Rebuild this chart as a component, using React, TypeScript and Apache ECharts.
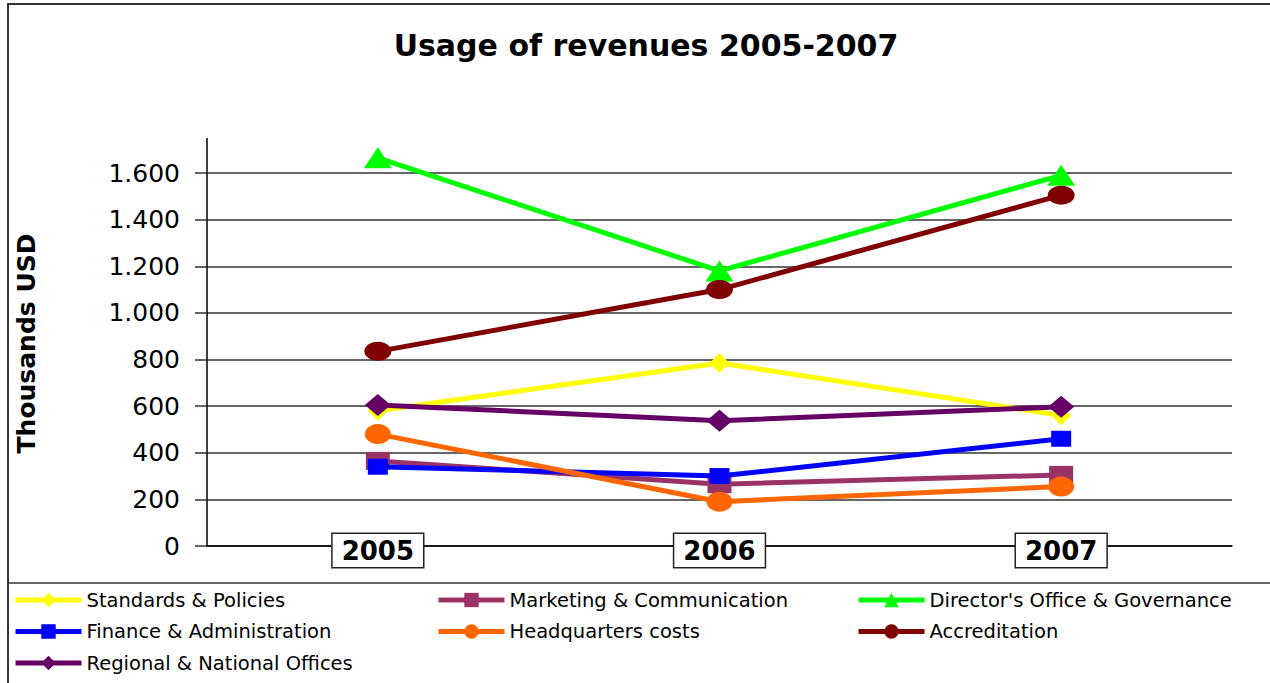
import React, { useEffect, useRef } from "react";
import * as echarts from "echarts";

const categories = ["2005", "2006", "2007"];
const yTicks = [0, 200, 400, 600, 800, 1000, 1200, 1400, 1600];

const seriesNames = [
  "Standards & Policies",
  "Marketing & Communication",
  "Director's Office & Governance",
  "Finance & Administration",
  "Headquarters costs",
  "Accreditation",
  "Regional & National Offices",
];

const standardsPolicies = [580, 785, 560];
const marketingCommunication = [365, 265, 305];
const directorsOffice = [1665, 1180, 1590];
const financeAdministration = [340, 300, 460];
const headquartersCosts = [480, 190, 255];
const accreditation = [835, 1100, 1505];
const regionalNational = [605, 537, 597];

const seriesValues = [
  standardsPolicies,
  marketingCommunication,
  directorsOffice,
  financeAdministration,
  headquartersCosts,
  accreditation,
  regionalNational,
];

const colors = ["#FFFF00", "#993366", "#00FF00", "#0000FF", "#FF6600", "#800000", "#660066"];
const symbols = ["diamond", "rect", "triangle", "rect", "circle", "circle", "diamond"];
const symbolSizes = [
  [20, 20],
  [24, 18],
  [28, 21],
  [20, 16],
  [26, 20],
  [27, 19],
  [26, 22],
];

const FONT = "DejaVu Sans";

function fmt(v: number): string {
  if (v >= 1000) {
    const r = v % 1000;
    return Math.floor(v / 1000) + "." + String(r).padStart(3, "0");
  }
  return String(v);
}

export default function App() {
  const ref = useRef<HTMLDivElement>(null);

  useEffect(() => {
    document.body.style.margin = "0";
    if (!ref.current) return;
    const chart = echarts.init(ref.current, null, { renderer: "svg" });

    const legendBase = {
      orient: "vertical" as const,
      top: 590,
      height: 92,
      padding: 0,
      itemWidth: 66,
      itemHeight: 18,
      itemGap: 11.5,
      lineStyle: { width: 5 },
      textStyle: { fontFamily: FONT, fontSize: 19.5, color: "#000" },
      inactiveColor: "#ccc",
    };

    chart.setOption({
      animation: false,
      backgroundColor: "#fff",
      title: {
        text: "Usage of revenues 2005-2007",
        left: 641,
        textAlign: "center",
        top: 25,
        textStyle: { fontFamily: FONT, fontSize: 30, fontWeight: "bold", color: "#000" },
      },
      legend: [
        { ...legendBase, left: 13, data: [seriesNames[0], seriesNames[3], seriesNames[6]] },
        { ...legendBase, left: 436, data: [seriesNames[1], seriesNames[4]] },
        { ...legendBase, left: 856, data: [seriesNames[2], seriesNames[5]] },
      ],
      grid: { left: 207, right: 38, top: 173, bottom: 137, containLabel: false },
      xAxis: {
        type: "category",
        data: categories,
        boundaryGap: true,
        axisLine: { show: true, lineStyle: { color: "#000", width: 1.5 } },
        axisTick: { show: false },
        splitLine: { show: false },
        axisLabel: {
          margin: -12,
          fontFamily: FONT,
          fontSize: 26,
          fontWeight: "bold",
          color: "#000",
          backgroundColor: "#fff",
          borderColor: "#222",
          borderWidth: 1.5,
          padding: [4, 9, 3, 9],
        },
      },
      yAxis: {
        type: "value",
        min: yTicks[0],
        max: yTicks[yTicks.length - 1],
        interval: 200,
        name: "Thousands USD",
        nameLocation: "middle",
        nameGap: 168,
        nameRotate: 90,
        nameTextStyle: {
          fontFamily: FONT,
          fontSize: 25,
          fontWeight: "bold",
          color: "#000",
          padding: [0, 0, 0, 32],
        },
        axisLine: { show: true, lineStyle: { color: "#000", width: 1.5 } },
        axisTick: { show: true, inside: false, length: 12, lineStyle: { color: "#333", width: 1.5 } },
        splitLine: { show: true, lineStyle: { color: "#333", width: 1.5 } },
        axisLabel: {
          margin: 27,
          fontFamily: FONT,
          fontSize: 25,
          color: "#000",
          formatter: (v: number) => fmt(v),
        },
      },
      graphic: [
        {
          type: "rect",
          shape: { x: 8, y: 4, width: 1300, height: 720 },
          style: { fill: "none", stroke: "#333", lineWidth: 2 },
          silent: true,
        },
        {
          type: "line",
          shape: { x1: 8, y1: 583, x2: 1270, y2: 583 },
          style: { stroke: "#333", lineWidth: 1.5 },
          silent: true,
        },
        {
          type: "line",
          shape: { x1: 207, y1: 138, x2: 207, y2: 174 },
          style: { stroke: "#000", lineWidth: 1.5 },
          silent: true,
        },
      ],
      series: seriesNames.map((name, i) => ({
        name,
        type: "line",
        data: seriesValues[i],
        clip: false,
        symbol: symbols[i],
        symbolSize: symbolSizes[i],
        showSymbol: true,
        lineStyle: { color: colors[i], width: 5 },
        itemStyle: { color: colors[i], borderWidth: 0 },
        emphasis: { disabled: true },
        z: 2 + i,
      })),
    });

    return () => chart.dispose();
  }, []);

  return <div ref={ref} style={{ width: 1270, height: 683 }} />;
}
